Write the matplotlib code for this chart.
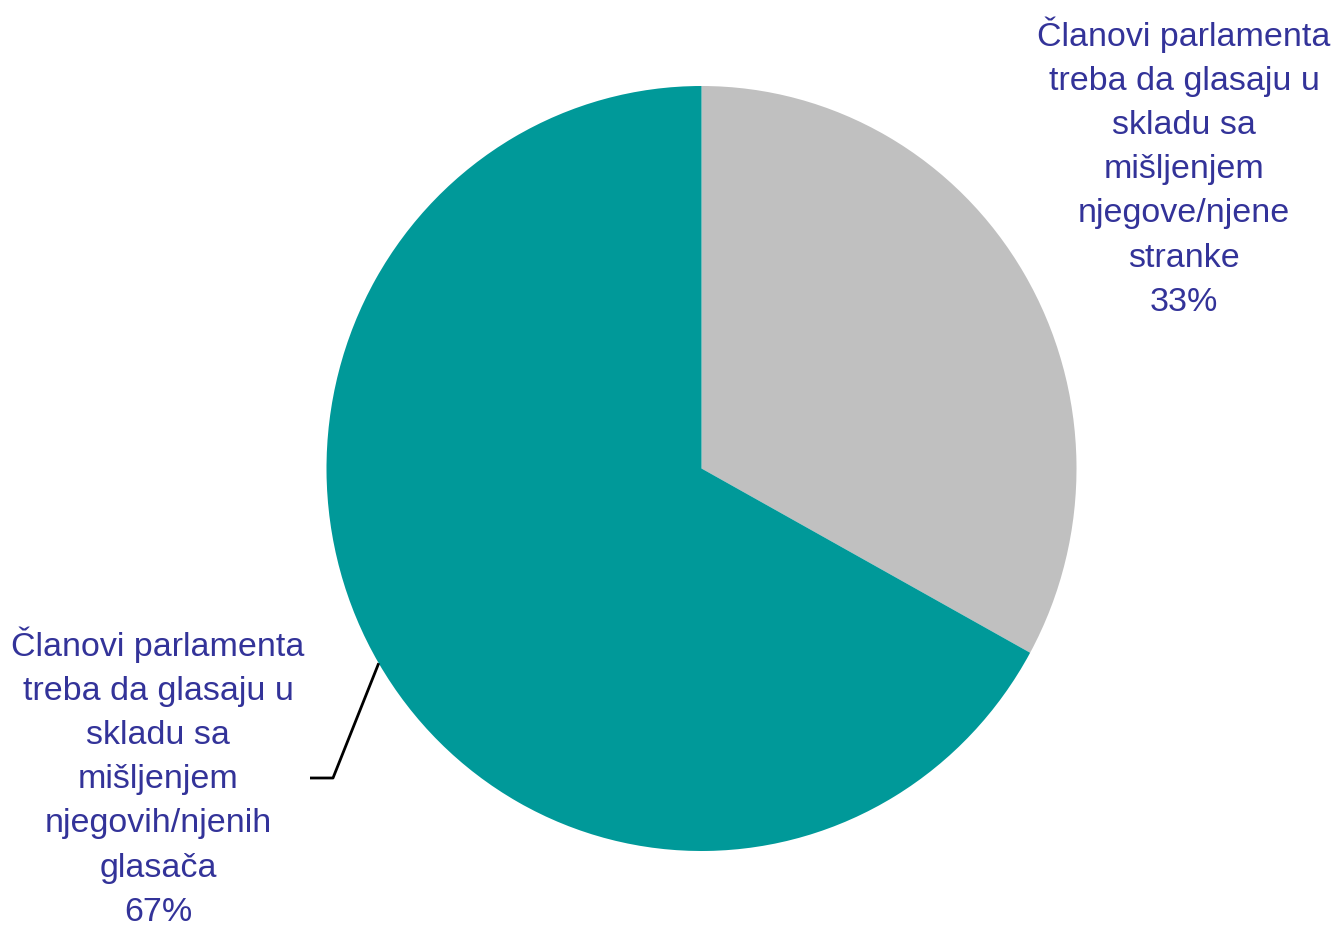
import numpy as np
import matplotlib.pyplot as plt

plt.rcParams['font.family'] = ['Liberation Sans', 'DejaVu Sans']

labels = ['Članovi parlamenta\ntreba da glasaju u\nskladu sa\nmišljenjem\nnjegove/njene\nstranke',
          'Članovi parlamenta\ntreba da glasaju u\nskladu sa\nmišljenjem\nnjegovih/njenih\nglasača']
shares = [33, 67]
colors = ['#C0C0C0', '#009999']
text_color = '#333399'

W, H = 1336, 929
k = 382.5 / 375  # slight vertical stretch seen in the original
fig = plt.figure(figsize=(W / 100, H / 100), dpi=100)
ax = fig.add_axes([0, 0, 1, 1])

def py(y):
    # pixel row from top -> data y
    return (H - y) / k

cx, cy, r = 701.5, py(469.5), 375
wedges, _ = ax.pie(shares, colors=colors, startangle=90, counterclock=False,
                   center=(cx, cy), radius=r, frame=True)
ax.set_aspect('auto')
ax.set_xlim(0, W)
ax.set_ylim(0, H / k)
ax.axis('off')

# label positions (pixel layout)
pos = [(1184, 167), (158, 777)]
for lab, s, (x, y) in zip(labels, shares, pos):
    ax.text(x, py(y), f'{lab}\n{s}%', ha='center', va='center', multialignment='center',
            fontsize=24.5, color=text_color, linespacing=1.55)

# leader line for the big slice
w = wedges[1]
mid = np.deg2rad((w.theta1 + w.theta2) / 2)
ex, ey = cx + r * np.cos(mid), cy + r * np.sin(mid)
ax.plot([ex, 333, 310], [ey, py(779), py(779)], color='black', lw=2, solid_capstyle='butt')

fig.savefig('out.png', dpi=100)
